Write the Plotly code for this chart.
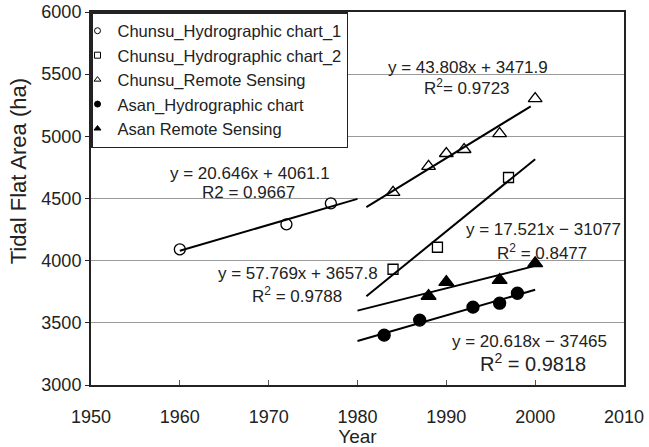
import numpy as np
import plotly.graph_objects as go

FONT = "Liberation Sans, Arial, sans-serif"

# ---- data ----
hc1_year = [1960, 1972, 1977]
hc1_area = [4091, 4292, 4461]
hc1_fit_range = [1960, 1980]

hc2_year = [1984, 1989, 1997]
hc2_area = [3931, 4108, 4669]
hc2_fit_range = [1981, 2000]

rs_year = [1984, 1988, 1990, 1992, 1996, 2000]
rs_area = [4549, 4758, 4862, 4894, 5022, 5303]
rs_fit_range = [1981, 1999.5]

asan_hc_year = [1983, 1987, 1993, 1996, 1998]
asan_hc_area = [3401, 3522, 3626, 3658, 3738]
asan_hc_fit_range = [1980, 2000]

asan_rs_year = [1988, 1990, 1996, 2000]
asan_rs_area = [3716, 3827, 3843, 3979]
asan_rs_fit_range = [1980, 2000]

series_names = [
    "Chunsu_Hydrographic chart_1",
    "Chunsu_Hydrographic chart_2",
    "Chunsu_Remote Sensing",
    "Asan_Hydrographic chart",
    "Asan Remote Sensing",
]

fig = go.Figure()

series = [
    (hc1_year, hc1_area, hc1_fit_range, "circle-open", 11),
    (hc2_year, hc2_area, hc2_fit_range, "square-open", 10),
    (rs_year, rs_area, rs_fit_range, "triangle-up-open", 12),
    (asan_hc_year, asan_hc_area, asan_hc_fit_range, "circle", 12),
    (asan_rs_year, asan_rs_area, asan_rs_fit_range, "triangle-up", 13),
]

for name, (xs, ys, rng, sym, sz) in zip(series_names, series):
    k, b = np.polyfit(xs, ys, 1)
    fx = np.array(rng, dtype=float)
    fig.add_trace(go.Scatter(x=fx, y=k * fx + b, mode="lines",
                             line=dict(color="black", width=2),
                             showlegend=False, hoverinfo="skip"))
    fig.add_trace(go.Scatter(x=xs, y=ys, mode="markers",
                             marker=dict(symbol=sym, size=sz, color="black",
                                         line=dict(color="black", width=1.3)),
                             showlegend=False))
    # legend entry with a small marker
    fig.add_trace(go.Scatter(x=[None], y=[None], mode="markers", name=name,
                             marker=dict(symbol=sym, size=6, color="black",
                                         line=dict(color="black", width=1))))

ann = [
    ("y = 43.808x + 3471.9", 1992.4, 5550, 17),
    ("R<sup>2</sup>= 0.9723", 1992.3, 5397, 17),
    ("y = 20.646x + 4061.1", 1967.9, 4700, 17),
    ("R2 = 0.9667", 1967.7, 4546, 17),
    ("y = 57.769x + 3657.8", 1973.3, 3895, 17),
    ("R<sup>2</sup> = 0.9788", 1973.2, 3722, 17),
    ("y = 17.521x − 31077", 2000.9, 4250, 17),
    ("R<sup>2</sup> = 0.8477", 2000.8, 4072, 17),
    ("y = 20.618x − 37465", 1999.4, 3346, 17),
    ("R<sup>2</sup> = 0.9818", 1999.8, 3182, 20),
]
for text, x, y, s in ann:
    fig.add_annotation(x=x, y=y, text=text, showarrow=False,
                       font=dict(family=FONT, size=s, color="#222"))

fig.add_annotation(xref="paper", yref="paper", x=-0.137, y=0.573,
                   xanchor="center", yanchor="middle",
                   text="Tidal Flat Area (ha)", textangle=-90, showarrow=False,
                   font=dict(family=FONT, size=22, color="#222"))

fig.update_xaxes(range=[1950, 2010], dtick=10, ticks="inside", ticklen=5,
                 tickcolor="#555", showline=True, linecolor="#222", linewidth=2,
                 mirror=True, showgrid=False, zeroline=False, automargin=False,
                 tickfont=dict(family=FONT, size=18, color="#222"),
                 ticklabelstandoff=14,
                 title=dict(text="Year", standoff=2,
                            font=dict(family=FONT, size=19, color="#222")))
fig.update_yaxes(range=[3000, 6000], dtick=500, ticks="outside", ticklen=4,
                 tickcolor="#222", showline=True, linecolor="#222", linewidth=2,
                 mirror=True, showgrid=True, gridcolor="#9a9a9a", gridwidth=1,
                 zeroline=False, automargin=False,
                 tickfont=dict(family=FONT, size=18, color="#222"))

fig.update_layout(
    width=649, height=447,
    margin=dict(l=91, r=25, t=12, b=62),
    paper_bgcolor="white", plot_bgcolor="white",
    legend=dict(x=0, y=1, xanchor="left", yanchor="top",
                bgcolor="white", bordercolor="#222", borderwidth=1.5,
                itemwidth=30, indentation=-15,
                font=dict(family=FONT, size=16.5, color="#222")),
)

fig.write_html("out.html")
